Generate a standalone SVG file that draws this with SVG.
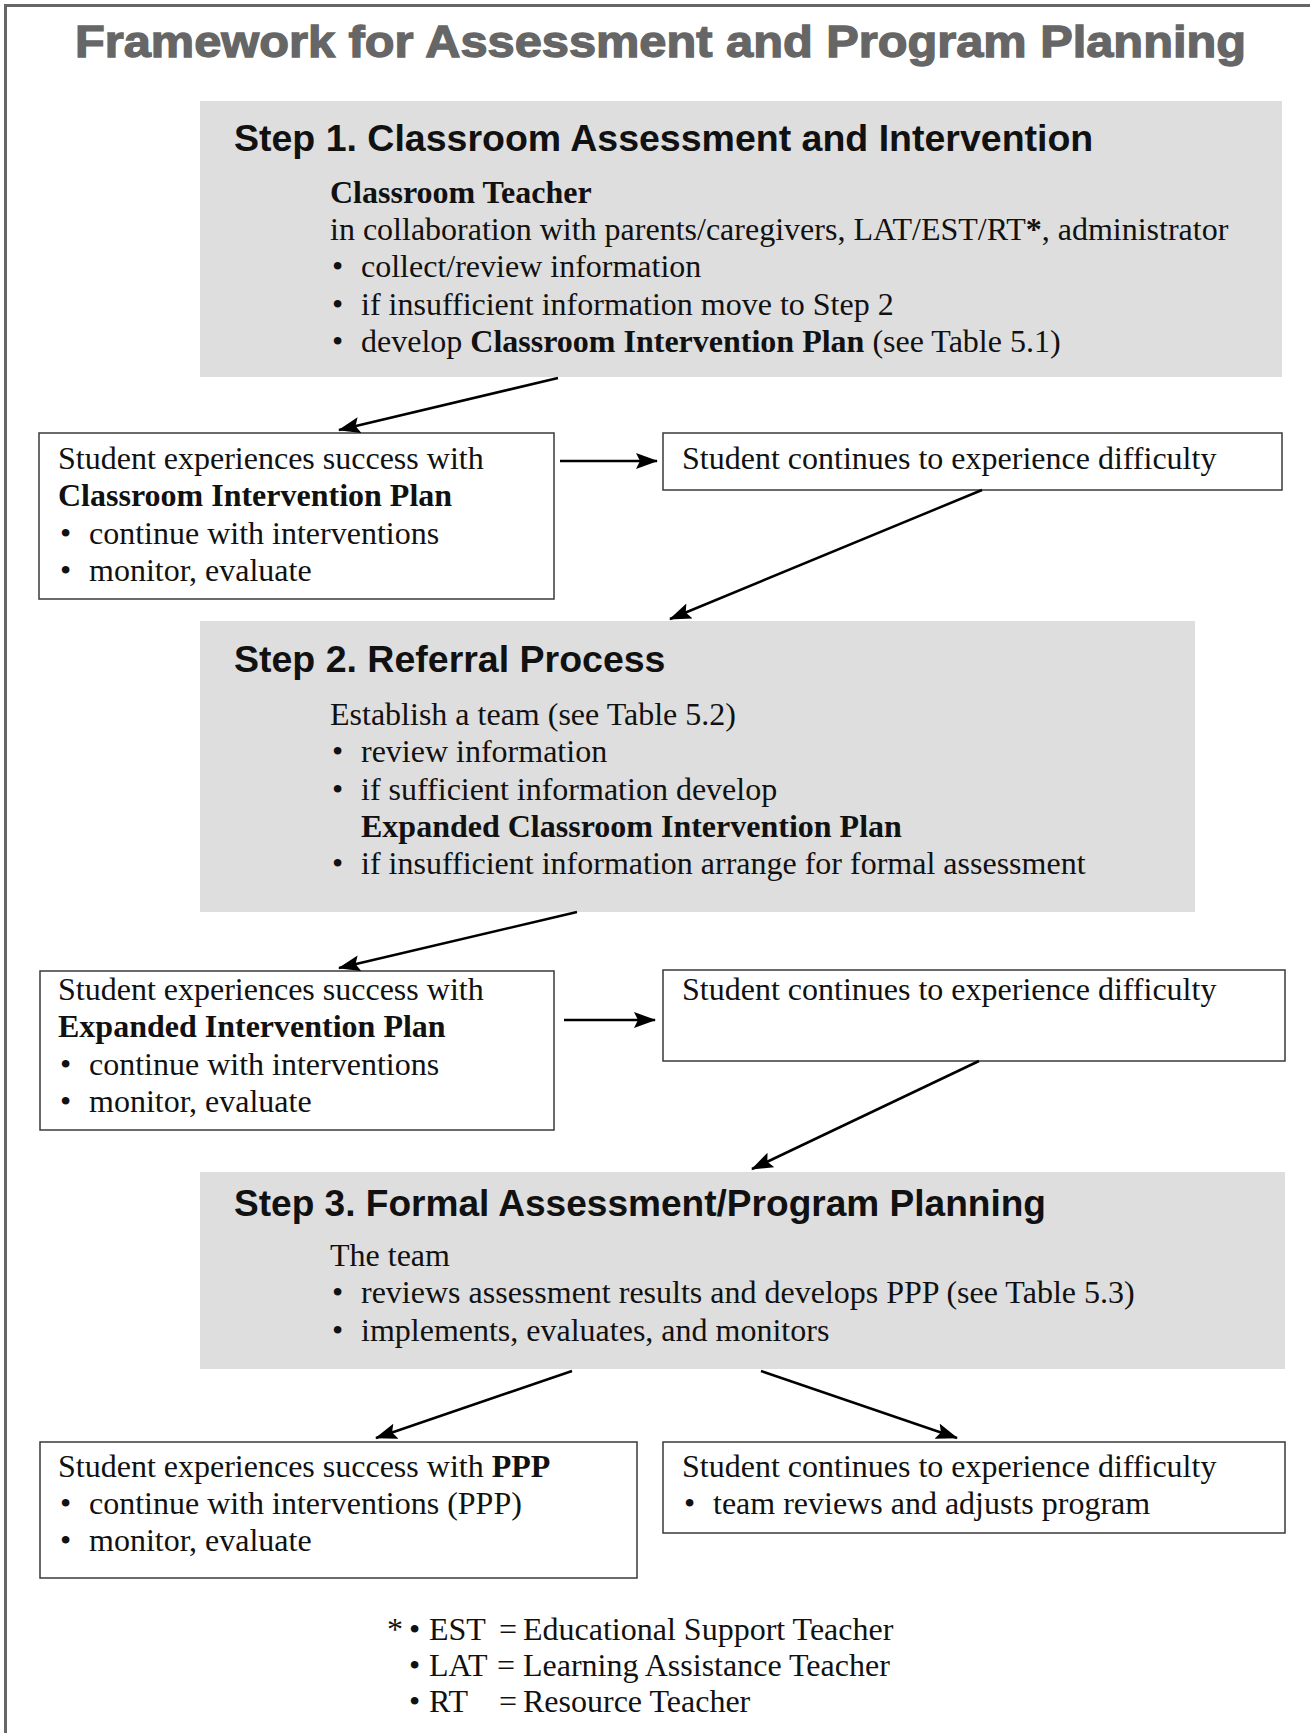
<svg xmlns="http://www.w3.org/2000/svg" width="1310" height="1733" viewBox="0 0 1310 1733">
  <style>
    .title { font-family: "Liberation Sans", Arial, sans-serif; font-weight: bold; font-size: 44px; fill: #666666; stroke: #666666; stroke-width: 1.3; }
    .step { fill: #dedede; }
    .head { font-family: "Liberation Sans", Arial, sans-serif; font-weight: bold; font-size: 37.5px; fill: #111111; }
    .txt { font-family: "Liberation Serif", "Times New Roman", serif; font-size: 32px; fill: #111111; }
    .b { font-weight: bold; }
    .box { fill: #ffffff; stroke: #3a3a3a; stroke-width: 1.5; }
    .conn { stroke: #000000; stroke-width: 2.5; fill: none; marker-end: url(#arrow); }
  </style>
  <defs>
    <marker id="arrow" markerUnits="userSpaceOnUse" markerWidth="24" markerHeight="18" refX="21" refY="8" orient="auto">
      <path d="M0,0 L22,8 L0,16 L4,8 z" fill="#000000"/>
    </marker>
  </defs>

  <rect width="1310" height="1733" fill="#ffffff"/>
  <!-- page frame -->
  <path d="M5.5,1733 V5.5 H1310" fill="none" stroke="#666666" stroke-width="3"/>

  <text class="title" x="75" y="57" textLength="1171" lengthAdjust="spacingAndGlyphs">Framework for Assessment and Program Planning</text>

  <!-- Step 1 -->
  <g id="step1">
    <rect class="step" x="200" y="101" width="1082" height="276"/>
    <text class="head" x="234" y="151">Step 1. Classroom Assessment and Intervention</text>
    <text class="txt b" x="330" y="203">Classroom Teacher</text>
    <text class="txt" x="330" y="240">in collaboration with parents/caregivers, LAT/EST/RT<tspan class="b">*</tspan>, administrator</text>
    <text class="txt" x="332" y="277">•</text>
    <text class="txt" x="361" y="277">collect/review information</text>
    <text class="txt" x="332" y="315">•</text>
    <text class="txt" x="361" y="315">if insufficient information move to Step 2</text>
    <text class="txt" x="332" y="352">•</text>
    <text class="txt" x="361" y="352">develop <tspan class="b">Classroom Intervention Plan</tspan> (see Table 5.1)</text>
  </g>

  <g id="success1">
    <rect class="box" x="39" y="433" width="515" height="166"/>
    <text class="txt" x="58" y="469">Student experiences success with</text>
    <text class="txt b" x="58" y="506">Classroom Intervention Plan</text>
    <text class="txt" x="60" y="544">•</text>
    <text class="txt" x="89" y="544">continue with interventions</text>
    <text class="txt" x="60" y="581">•</text>
    <text class="txt" x="89" y="581">monitor, evaluate</text>
  </g>

  <g id="difficulty1">
    <rect class="box" x="663" y="433" width="619" height="57"/>
    <text class="txt" x="682" y="469">Student continues to experience difficulty</text>
  </g>

  <!-- Step 2 -->
  <g id="step2">
    <rect class="step" x="200" y="621" width="995" height="291"/>
    <text class="head" x="234" y="672">Step 2. Referral Process</text>
    <text class="txt" x="330" y="725">Establish a team (see Table 5.2)</text>
    <text class="txt" x="332" y="762">•</text>
    <text class="txt" x="361" y="762">review information</text>
    <text class="txt" x="332" y="800">•</text>
    <text class="txt" x="361" y="800">if sufficient information develop</text>
    <text class="txt b" x="361" y="837">Expanded Classroom Intervention Plan</text>
    <text class="txt" x="332" y="874">•</text>
    <text class="txt" x="361" y="874">if insufficient information arrange for formal assessment</text>
  </g>

  <g id="success2">
    <rect class="box" x="40" y="971" width="514" height="159"/>
    <text class="txt" x="58" y="1000">Student experiences success with</text>
    <text class="txt b" x="58" y="1037">Expanded Intervention Plan</text>
    <text class="txt" x="60" y="1075">•</text>
    <text class="txt" x="89" y="1075">continue with interventions</text>
    <text class="txt" x="60" y="1112">•</text>
    <text class="txt" x="89" y="1112">monitor, evaluate</text>
  </g>

  <g id="difficulty2">
    <rect class="box" x="663" y="970" width="622" height="91"/>
    <text class="txt" x="682" y="1000">Student continues to experience difficulty</text>
  </g>

  <!-- Step 3 -->
  <g id="step3">
    <rect class="step" x="200" y="1172" width="1085" height="197"/>
    <text class="head" x="234" y="1216" textLength="812" lengthAdjust="spacingAndGlyphs">Step 3. Formal Assessment/Program Planning</text>
    <text class="txt" x="330" y="1266">The team</text>
    <text class="txt" x="332" y="1303">•</text>
    <text class="txt" x="361" y="1303">reviews assessment results and develops PPP (see Table 5.3)</text>
    <text class="txt" x="332" y="1341">•</text>
    <text class="txt" x="361" y="1341">implements, evaluates, and monitors</text>
  </g>

  <g id="success3">
    <rect class="box" x="40" y="1442" width="597" height="136"/>
    <text class="txt" x="58" y="1477">Student experiences success with <tspan class="b">PPP</tspan></text>
    <text class="txt" x="60" y="1514">•</text>
    <text class="txt" x="89" y="1514">continue with interventions (PPP)</text>
    <text class="txt" x="60" y="1551">•</text>
    <text class="txt" x="89" y="1551">monitor, evaluate</text>
  </g>

  <g id="difficulty3">
    <rect class="box" x="663" y="1442" width="622" height="91"/>
    <text class="txt" x="682" y="1477">Student continues to experience difficulty</text>
    <text class="txt" x="684" y="1514">•</text>
    <text class="txt" x="713" y="1514">team reviews and adjusts program</text>
  </g>

  <!-- footnote -->
  <g id="footnote">
    <text class="txt" x="387" y="1640">*</text>
    <text class="txt" x="409" y="1640">•</text>
    <text class="txt" x="429" y="1640">EST</text>
    <text class="txt" x="499" y="1640">=</text>
    <text class="txt" x="523" y="1640">Educational Support Teacher</text>
    <text class="txt" x="409" y="1676">•</text>
    <text class="txt" x="429" y="1676">LAT</text>
    <text class="txt" x="497" y="1676">=</text>
    <text class="txt" x="523" y="1676">Learning Assistance Teacher</text>
    <text class="txt" x="409" y="1712">•</text>
    <text class="txt" x="429" y="1712">RT</text>
    <text class="txt" x="499" y="1712">=</text>
    <text class="txt" x="523" y="1712">Resource Teacher</text>
  </g>

  <!-- connectors -->
  <g id="connectors">
    <line class="conn" x1="558" y1="378" x2="339" y2="430"/>
    <line class="conn" x1="560" y1="461" x2="657" y2="461"/>
    <line class="conn" x1="982" y1="490" x2="670" y2="619"/>
    <line class="conn" x1="577" y1="912" x2="339" y2="968"/>
    <line class="conn" x1="564" y1="1020" x2="655" y2="1020"/>
    <line class="conn" x1="979" y1="1061" x2="752" y2="1169"/>
    <line class="conn" x1="572" y1="1371" x2="376" y2="1438"/>
    <line class="conn" x1="761" y1="1371" x2="957" y2="1438"/>
  </g>
</svg>
